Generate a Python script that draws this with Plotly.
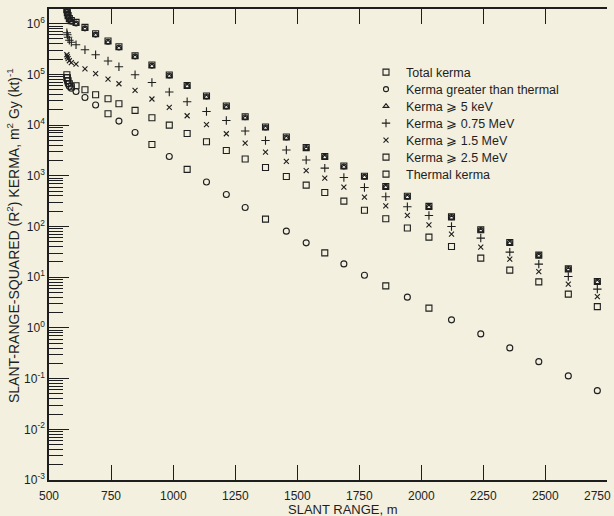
import plotly.graph_objects as go

# Slant ranges (m): five near-source points, then the main sequence
slant_range = [572, 574, 577, 582, 590,
               609, 645, 688, 738, 782, 847, 915, 985, 1057, 1135, 1215, 1291, 1373,
               1457, 1537, 1612, 1689, 1772, 1858, 1945, 2032, 2123, 2241, 2358,
               2475, 2594, 2711]

total_kerma = [1.89e6, 1.65e6, 1.44e6, 1.26e6, 1.15e6,
               1.06e6, 8.45e5, 6.35e5, 4.56e5, 3.52e5, 2.34e5, 1.53e5, 9.72e4, 6.06e4,
               3.74e4, 2.38e4, 1.46e4, 9.15e3, 5.81e3, 3.60e3, 2.40e3, 1.56e3, 978,
               615, 394, 250, 155, 86.0, 48.3, 27.2, 14.6, 8.21]

kerma_gt_thermal = [1.80e6, 1.58e6, 1.37e6, 1.20e6, 1.09e6,
                    1.01e6, 8.10e5, 6.10e5, 4.40e5, 3.40e5, 2.27e5, 1.49e5, 9.50e4, 5.93e4,
                    3.66e4, 2.33e4, 1.43e4, 8.97e3, 5.70e3, 3.53e3, 2.36e3, 1.53e3, 960,
                    605, 387, 246, 153, 85.0, 47.8, 27.0, 14.5, 8.15]

kerma_5kev = [1.78e6, 1.56e6, 1.35e6, 1.18e6, 1.07e6,
              9.90e5, 7.95e5, 5.95e5, 4.30e5, 3.32e5, 2.21e5, 1.45e5, 9.25e4, 5.77e4,
              3.56e4, 2.27e4, 1.39e4, 8.75e3, 5.55e3, 3.44e3, 2.30e3, 1.49e3, 937,
              590, 378, 240, 149, 83.0, 46.6, 26.3, 14.1, 7.95]

kerma_075mev = [6.64e5, 6.06e5, 5.42e5, 4.73e5, 4.31e5,
                3.85e5, 3.07e5, 2.44e5, 1.84e5, 1.42e5, 9.85e4, 6.94e4, 4.49e4, 2.89e4,
                1.86e4, 1.23e4, 7.66e3, 4.98e3, 3.22e3, 2.05e3, 1.42e3, 926, 588,
                385, 245, 165, 99.9, 59.0, 31.2, 18.1, 10.3, 5.81]

kerma_15mev = [2.44e5, 2.23e5, 2.04e5, 1.86e5, 1.70e5,
               1.60e5, 1.29e5, 1.04e5, 8.10e4, 6.54e4, 4.83e4, 3.27e4, 2.23e4, 1.53e4,
               1.02e4, 6.75e3, 4.42e3, 2.94e3, 1.92e3, 1.26e3, 901, 599, 380,
               254, 166, 108, 70.7, 39.2, 22.7, 12.9, 7.29, 4.15]

kerma_25mev = [9.85e4, 8.60e4, 7.50e4, 6.54e4, 5.71e4,
               5.98e4, 4.98e4, 3.97e4, 3.31e4, 2.64e4, 1.95e4, 1.40e4, 1.00e4, 6.81e3,
               4.69e3, 3.16e3, 2.14e3, 1.46e3, 969, 656, 468, 317, 209,
               142, 93.3, 61.7, 40.3, 23.8, 13.8, 8.09, 4.63, 2.63]

thermal_kerma = [8.60e4, 7.50e4, 6.54e4, 5.85e4, 5.34e4,
                 4.61e4, 3.51e4, 2.49e4, 1.67e4, 1.20e4, 7.16e3, 4.15e3, 2.40e3, 1.34e3,
                 755, 428, 237, 140, 81.0, 47.6, 30.2, 18.3, 10.9,
                 6.75, 4.04, 2.45, 1.44, 0.762, 0.403, 0.216, 0.113, 0.0579]

y_tick_vals = [1e-3, 1e-2, 1e-1, 1e0, 1e1, 1e2, 1e3, 1e4, 1e5, 1e6]
y_tick_text = ["10<sup>-3</sup>", "10<sup>-2</sup>", "10<sup>-1</sup>", "10<sup>0</sup>",
               "10<sup>1</sup>", "10<sup>2</sup>", "10<sup>3</sup>", "10<sup>4</sup>",
               "10<sup>5</sup>", "10<sup>6</sup>"]
x_tick_vals = [500, 750, 1000, 1250, 1500, 1750, 2000, 2250, 2500, 2750]
x_tick_text = ["500", "750", "1000", "1250", "1500", "1750", "2000", "2250", "2500", "2750"]

x_title = "SLANT RANGE, m"
y_title = "SLANT-RANGE-SQUARED (R<sup>2</sup>) KERMA, m<sup>2</sup> Gy (kt)<sup>-1</sup>"

INK = "#1e1e1e"
BG = "#f3f0df"
FONT = "Liberation Sans, Arial, sans-serif"

# plot-area geometry (pixels) used to place legend rows and titles
W, H = 614, 516
ML, MR, MT, MB = 49, 7, 9, 36
PW, PH = W - ML - MR, H - MT - MB


def px_to_paper_x(px):
    return (px - ML) / PW


def px_to_paper_y(py):
    return 1 - (py - MT) / PH


minor_vals = [m * 10.0 ** e for e in range(-3, 7) for m in range(2, 10)]

thermal_symbols = (["square-open"] + ["circle-open"] * 4 +
                   ["circle-open" if i not in (3, 6, 8, 12, 15, 18, 20) else "square-open"
                    for i in range(27)])

series = [
    ("Total kerma", total_kerma, "square-open", 6),
    ("Kerma greater than thermal", kerma_gt_thermal, "circle-open", 5),
    ("Kerma \u2a7e 5 keV", kerma_5kev, "triangle-up-open", 5),
    ("Kerma \u2a7e 0.75 MeV", kerma_075mev, "cross-thin-open", 6),
    ("Kerma \u2a7e 1.5 MeV", kerma_15mev, "x-thin-open", 5),
    ("Kerma \u2a7e 2.5 MeV", kerma_25mev, "square-open", 6),
    ("Thermal kerma", thermal_kerma, thermal_symbols, 6),
]

fig = go.Figure()
legend_layouts = {}
text_left_px = 406
for i, (name, vals, sym, size) in enumerate(series):
    lg = "legend" if i == 0 else f"legend{i + 1}"
    fig.add_trace(go.Scatter(
        x=slant_range, y=vals, mode="markers", name=name, legend=lg,
        marker=dict(symbol=sym, size=size, color=INK,
                    line=dict(color=INK, width=1.1)),
    ))
    row_px = 72.5 + 17.0 * i
    legend_layouts[lg] = dict(
        x=px_to_paper_x(text_left_px - 40), y=px_to_paper_y(row_px),
        xanchor="left", yanchor="middle",
        bgcolor="rgba(0,0,0,0)", font=dict(size=12.5, color=INK, family=FONT),
        itemsizing="trace",
    )

# the last x tick label sits flush with the right edge, as in the reference
axis_labels = [
    dict(text=t, xref="x", yref="paper", x=v, y=px_to_paper_y(496),
         xanchor="center" if v != x_tick_vals[-1] else "right",
         xshift=0 if v != x_tick_vals[-1] else 6,
         yanchor="middle", showarrow=False,
         font=dict(size=12, color=INK, family=FONT))
    for v, t in zip(x_tick_vals, x_tick_text)
]

fig.update_layout(
    width=W, height=H,
    margin=dict(l=ML, r=MR, t=MT, b=MB),
    paper_bgcolor=BG, plot_bgcolor=BG,
    font=dict(family=FONT, color=INK, size=12),
    showlegend=True,
    xaxis=dict(
        range=[500, 2750], tickvals=x_tick_vals, showticklabels=False,
        ticks="inside", ticklen=15, tickwidth=1, tickcolor=INK, mirror="allticks",
        showline=True, linecolor=INK, linewidth=1.5, showgrid=False, zeroline=False,
        automargin=False,
    ),
    yaxis=dict(
        type="log", range=[-3, 6.29], tickvals=y_tick_vals, ticktext=y_tick_text,
        ticks="inside", ticklen=20, tickwidth=1, tickcolor=INK,
        minor=dict(ticks="inside", ticklen=14, tickvals=minor_vals,
                   tickcolor=INK, tickwidth=1, showgrid=False),
        showline=True, linecolor=INK, linewidth=1.5, showgrid=False, zeroline=False,
        tickfont=dict(size=12), automargin=False, ticklabeloverflow="allow",
    ),
    yaxis2=dict(
        type="log", range=[-3, 6.29], overlaying="y", side="right", anchor="x",
        tickvals=y_tick_vals, ticks="inside", ticklen=17, tickwidth=1, tickcolor=INK,
        minor=dict(ticks="inside", ticklen=11, tickvals=minor_vals,
                   tickcolor=INK, tickwidth=1, showgrid=False),
        showticklabels=False, showline=True, linecolor=INK, linewidth=1.5,
        showgrid=False, zeroline=False, automargin=False,
    ),
    annotations=axis_labels + [
        dict(text=x_title, xref="paper", yref="paper",
             x=px_to_paper_x(343), y=px_to_paper_y(509),
             xanchor="center", yanchor="middle", showarrow=False,
             font=dict(size=13, color=INK, family=FONT)),
        dict(text=y_title, xref="paper", yref="paper", textangle=-90,
             x=px_to_paper_x(13), y=px_to_paper_y(236),
             xanchor="center", yanchor="middle", showarrow=False,
             font=dict(size=14, color=INK, family=FONT)),
    ],
    **legend_layouts,
)

fig.write_html(
    "out.html",
    config={"displayModeBar": False},
    post_script="document.body.style.margin='0';"
                "document.body.style.backgroundColor='" + BG + "';",
)
